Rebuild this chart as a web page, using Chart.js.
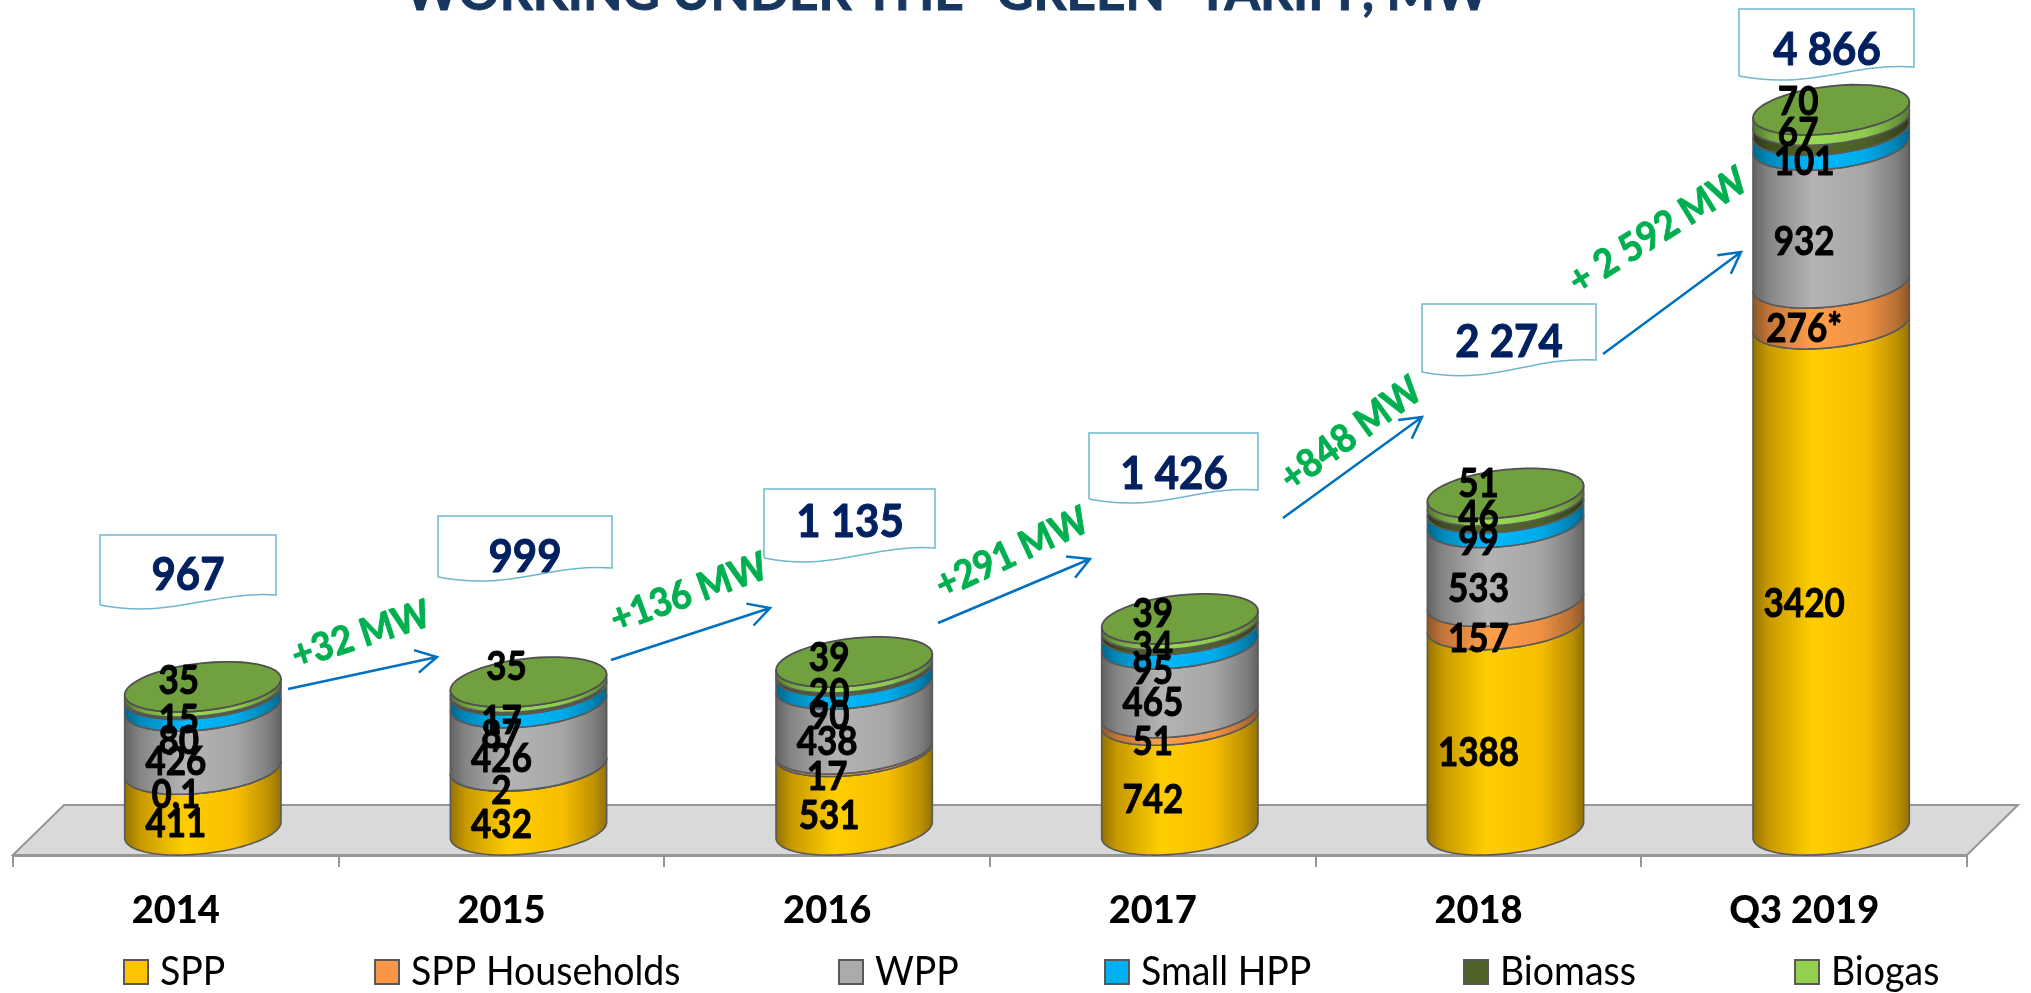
<!DOCTYPE html>
<html>
<head>
<meta charset="utf-8">
<style>html,body{margin:0;padding:0;background:#fff;overflow:hidden}canvas{display:block}</style>
<script src="https://cdn.jsdelivr.net/npm/chart.js@4"></script>
</head>
<body>
<canvas id="c" width="2031" height="993"></canvas>
<script>
const categories = ['2014','2015','2016','2017','2018','Q3 2019'];
const spp        = [411, 432, 531, 742, 1388, 3420];
const households = [0.1, 2, 17, 51, 157, 276];
const wpp        = [426, 426, 438, 465, 533, 932];
const smallHpp   = [80, 87, 90, 95, 99, 101];
const biomass    = [15, 17, 20, 34, 46, 67];
const biogas     = [35, 35, 39, 39, 51, 70];
const totals     = ['967','999','1 135','1 426','2 274','4 866'];
const growth     = ['+32 MW','+136 MW','+291 MW','+848 MW','+ 2 592 MW'];
const titleText  = 'WORKING UNDER THE “GREEN” TARIFF, MW';
const footnoted  = {1: {5: '276*'}};

const seriesColors = ['#FFC400','#F79646','#ABABAB','#00B0F0','#4F6228','#92D050'];
// hand placement of the value labels relative to the segment centres
const nudgeY = [[0,2,0,0,1,2],[1,0,2,1,1,1],[0,0,1,0,2,3],[16,14,14,9,2,0],[2,8,0,-5,-13,-17],[-33,-43,-32,-33,-38,-38]];
const nudgeX = [[0,0,2,0,0,0],[0,0,0,0,0,0],[0,0,0,0,0,0],[3,0,2,0,0,0],[3,0,2,0,0,-6],[3,5,2,0,0,-6]];
// layout of annotations, [left,right,top,bottomRight,bottomLeft,textX,textY]
const boxes = [
 [100,276,535,595,605,188,575],[438,612,516,568,577,525,557],[764,935,489,548,558,850,522],
 [1089,1258,433,490,499,1174,474],[1422,1596,304,360,372,1509,342],[1739,1914,9,67,76,1827,50]];
const arrows = [[288,689,437,657],[611,660,770,608],[938,623,1090,559],[1283,518,1422,417],[1603,354,1741,252]];
const growthPos = [[361,635,-18],[689,593,-20],[1012,553,-25],[1351,434,-36],[1658,231,-32]];
const legendX = [124,375,839,1105,1464,1795];

const depthX = 27, depthY = 25, tiltA = -8, tiltB = 23.8;

function shade(hex, f){
  const n = parseInt(hex.slice(1),16);
  const c = [n>>16&255,n>>8&255,n&255].map(v=>Math.min(255,Math.round(v*f)));
  return `rgb(${c[0]},${c[1]},${c[2]})`;
}
function arcPath(ctx,cx,cy,a,from,to,move){
  const steps = 48;
  for(let i=0;i<=steps;i++){
    const t = from+(to-from)*i/steps;
    const x = cx+a*Math.cos(t), y = cy+tiltA*Math.cos(t)+tiltB*Math.sin(t);
    if(i===0&&move) ctx.moveTo(x,y); else ctx.lineTo(x,y);
  }
}
// text helper: taller than wide, slightly thickened, as in the narrow typeface of the reference
function tallText(ctx,t,x,y,sy,thick,rot){
  ctx.save();
  ctx.translate(x,y);
  if(rot) ctx.rotate(rot*Math.PI/180);
  ctx.scale(1,sy);
  ctx.lineJoin='round';
  if(thick){ ctx.strokeStyle=ctx.fillStyle; ctx.lineWidth=thick; ctx.strokeText(t,0,0); }
  ctx.fillText(t,0,0);
  ctx.restore();
}
const cylinders = {
  id:'cylinders',
  beforeDatasetDraw(){ return false; },
  beforeDatasetsDraw(chart){
    const {ctx,chartArea:ca} = chart;
    ctx.save();
    ctx.beginPath();
    ctx.moveTo(ca.left,ca.bottom);
    ctx.lineTo(ca.left+51,ca.bottom-depthY*2);
    ctx.lineTo(ca.right+51,ca.bottom-depthY*2);
    ctx.lineTo(ca.right,ca.bottom);
    ctx.closePath();
    ctx.fillStyle='#D9D9D9'; ctx.fill();
    ctx.strokeStyle='#969696'; ctx.lineWidth=2; ctx.stroke();
    ctx.restore();
  },
  afterDatasetsDraw(chart){
    const {ctx} = chart;
    ctx.save();
    const n = chart.data.datasets.length;
    categories.forEach((_,i)=>{
      for(let d=0;d<n;d++){
        const el = chart.getDatasetMeta(d).data[i];
        const col = chart.data.datasets[d].backgroundColor;
        const a = el.width/2, cx = el.x+depthX, yTop = el.y-depthY, yBot = el.base-depthY;
        const g = ctx.createLinearGradient(cx-a,0,cx+a,0);
        g.addColorStop(0,shade(col,.58));
        g.addColorStop(.1,shade(col,.78));
        g.addColorStop(.38,shade(col,1.05));
        g.addColorStop(.72,shade(col,.97));
        g.addColorStop(.92,shade(col,.74));
        g.addColorStop(1,shade(col,.58));
        ctx.beginPath();
        arcPath(ctx,cx,yBot,a,Math.PI,0,true);
        arcPath(ctx,cx,yTop,a,0,Math.PI,false);
        ctx.closePath();
        ctx.fillStyle=g; ctx.fill();
        ctx.strokeStyle='#595959'; ctx.lineWidth=1.6; ctx.stroke();
        if(d===n-1){
          ctx.beginPath();
          arcPath(ctx,cx,yTop,a,0,Math.PI*2,true);
          ctx.closePath();
          ctx.fillStyle='#71A03F'; ctx.fill();
          ctx.strokeStyle='#505050'; ctx.lineWidth=1.8; ctx.stroke();
        }
      }
    });
    // value labels
    ctx.fillStyle='#000'; ctx.textAlign='center'; ctx.textBaseline='middle';
    ctx.font='bold 35px Lato';
    categories.forEach((_,i)=>{
      for(let d=0;d<n;d++){
        const el = chart.getDatasetMeta(d).data[i];
        const v = chart.data.datasets[d].data[i];
        const o = footnoted[d] && footnoted[d][i];
        const t = o || String(v).replace('.',',');
        tallText(ctx,t,el.x+nudgeX[d][i],(el.y+el.base)/2+nudgeY[d][i],1.14,.8);
      }
    });
    ctx.restore();
  },
  afterDraw(chart){
    const {ctx} = chart;
    ctx.save();
    // title, cut by the top edge of the picture
    ctx.fillStyle='#17375E'; ctx.textAlign='center'; ctx.textBaseline='alphabetic';
    ctx.font='bold 52px Lato';
    ctx.lineWidth=1; ctx.strokeStyle='#17375E';
    ctx.strokeText(titleText,947,10,1084);
    ctx.fillText(titleText,947,10,1084);
    // total boxes
    boxes.forEach((b,i)=>{
      const [l,r,t,br,bl,tx,ty]=b, w=r-l;
      ctx.beginPath();
      ctx.moveTo(l,bl); ctx.lineTo(l,t); ctx.lineTo(r,t); ctx.lineTo(r,br);
      ctx.bezierCurveTo(l+.62*w,br-4,l+.42*w,bl+14,l,bl);
      ctx.fillStyle='#fff'; ctx.fill();
      ctx.strokeStyle='#6DB6CF'; ctx.lineWidth=1.5; ctx.stroke();
      ctx.fillStyle='#002060'; ctx.font='bold 42px Lato';
      ctx.textAlign='center'; ctx.textBaseline='middle';
      tallText(ctx,totals[i],tx,ty,1.1,.9);
    });
    // arrows
    ctx.strokeStyle='#0070C0'; ctx.lineWidth=2.5; ctx.lineCap='butt';
    arrows.forEach(([x1,y1,x2,y2])=>{
      const ang=Math.atan2(y2-y1,x2-x1), h=24;
      ctx.beginPath(); ctx.moveTo(x1,y1); ctx.lineTo(x2,y2);
      ctx.moveTo(x2-h*Math.cos(ang-.5),y2-h*Math.sin(ang-.5));
      ctx.lineTo(x2,y2);
      ctx.lineTo(x2-h*Math.cos(ang+.5),y2-h*Math.sin(ang+.5));
      ctx.stroke();
    });
    // growth labels
    ctx.fillStyle='#00B050'; ctx.font='bold 36px Lato';
    growthPos.forEach(([x,y,r],i)=>{
      tallText(ctx,growth[i],x,y,1.08,.9,r);
    });
    // legend
    ctx.font='37.5px Lato'; ctx.textAlign='left';
    chart.data.datasets.forEach((ds,i)=>{
      const x=legendX[i];
      ctx.fillStyle=ds.backgroundColor; ctx.fillRect(x,960,24,24);
      ctx.strokeStyle='#595959'; ctx.lineWidth=2; ctx.strokeRect(x,960,24,24);
      ctx.fillStyle='#000'; tallText(ctx,ds.label,x+36,972,1.08,0);
    });
    ctx.restore();
  }
};

const seriesNames = ['SPP','SPP Households','WPP','Small HPP','Biomass','Biogas'];
const seriesData = [spp,households,wpp,smallHpp,biomass,biogas];

new Chart(document.getElementById('c'),{
  type:'bar',
  data:{labels:categories,datasets:seriesNames.map((label,i)=>({label,data:seriesData[i],backgroundColor:seriesColors[i]}))},
  plugins:[cylinders],
  options:{
    responsive:false,animation:false,
    layout:{padding:{left:13,right:64,top:115,bottom:0}},
    barPercentage:.96,categoryPercentage:.5,
    plugins:{legend:{display:false},tooltip:{enabled:false},title:{display:false}},
    scales:{
      x:{stacked:true,
         afterFit(s){s.height=138;},
         border:{display:true,color:'#969696',width:3},
         grid:{offset:true,drawOnChartArea:false,drawTicks:true,tickLength:12,color:'#969696',lineWidth:2},
         ticks:{color:'#000',padding:21,maxRotation:0,font:{family:'Lato',weight:'900',size:38}}},
      y:{stacked:true,display:false,min:0,max:5000}
    }
  }
});
</script>
</body>
</html>
